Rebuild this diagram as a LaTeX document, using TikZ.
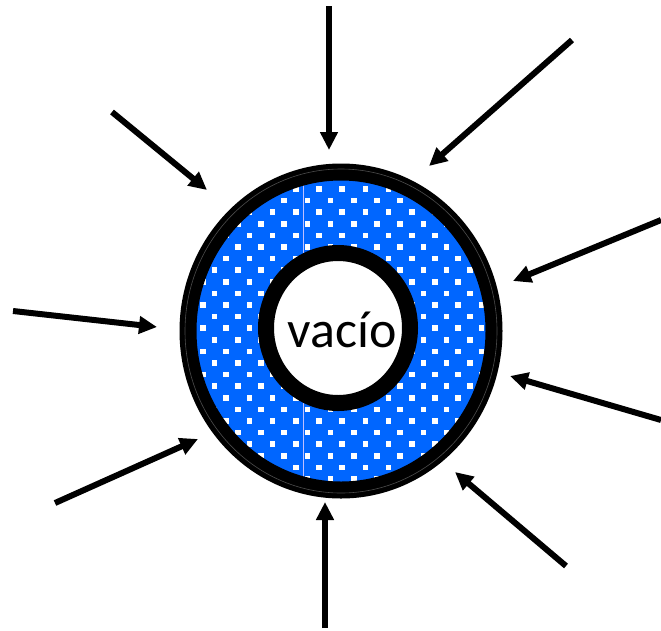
\documentclass[tikz,border=0pt]{standalone}
\usepackage{fontspec}
\setmainfont{Carlito}
\usepackage{xcolor}
\usetikzlibrary{arrows.meta}

\definecolor{fillblue}{RGB}{0,102,255}

\begin{document}
\begin{tikzpicture}[x=1pt,y=-1pt,
    push/.style={line width=6pt,-{Triangle[length=18pt,width=17pt]}},
    dot/.style={fill=white}]
  \useasboundingbox (0,0) rectangle (661,630);

  % blue layer with white dots
  \fill[fillblue] (341,331) ellipse [x radius=153, y radius=159];
  \begin{scope}
    \clip (341,331) ellipse [x radius=153, y radius=159];
    \foreach \j in {-3,...,27}
      \foreach \k in {-14,...,16} {
        \pgfmathtruncatemacro{\parity}{mod(abs(\j+\k),2)}
        \ifnum\parity=0
          \fill[dot] ({319+11.6*\k-2.75},{189+11.6*\j-2.75}) rectangle +(5.5,5.5);
        \fi
      }
    \draw[blue!25!white,line width=0.6pt] (303,160) -- (303,500);
  \end{scope}

  % inner cavity
  \draw[fill=white,line width=16pt] (338,328) ellipse [x radius=72, y radius=75];
  \node[font=\fontsize{52}{60}\selectfont,anchor=base] (vacio) at (342,347) {vacío};

  % outer shell
  \draw[line width=17pt] (341,331) ellipse [x radius=153, y radius=159];
  \draw[black!70,line width=0.6pt] (341,331) ellipse [x radius=156, y radius=162];

  % pressure arrows
  \foreach \tx/\ty/\hx/\hy [count=\i] in {329/6/329/150, 572/40/429/166,
      661/220/513/281, 661/420/510/376, 566/566/455/472, 325/628/325/502,
      55/503/198/439, 13/311/157/327, 112/112/207/190} {
    \coordinate (tail\i) at (\tx,\ty);
    \coordinate (tip\i) at (\hx,\hy);
    \draw[push] (tail\i) -- (tip\i);
  }
\end{tikzpicture}
\end{document}
